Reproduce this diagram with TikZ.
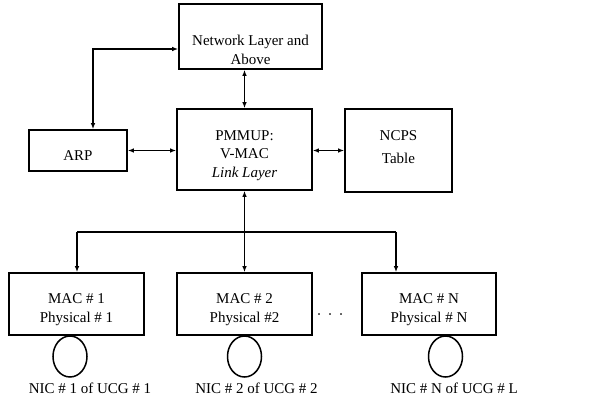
\documentclass[tikz,border=0pt]{standalone}
\usepackage{fontspec}
\setmainfont{Liberation Serif}
\usetikzlibrary{arrows.meta,shapes.geometric}
\newcommand\bxt[2]{\raisebox{#1}[0pt][0pt]{\begin{tabular}[t]{@{}c@{}}#2\end{tabular}}}
\tikzset{blk/.style={draw=black,rectangle,line width=1.6pt,inner sep=0pt,font=\fontsize{15}{18.5}\selectfont}}
\tikzset{nic/.style={draw=black,ellipse,line width=1.5pt,minimum width=34,minimum height=41,inner sep=0pt}}
\tikzset{lbl/.style={inner sep=0pt,anchor=base,font=\fontsize{15}{18}\selectfont}}
\tikzset{lnk/.style={line width=1.3pt,{Latex[length=6pt,width=4.5pt]}-{Latex[length=6pt,width=4.5pt]}}}
\tikzset{dn/.style={line width=1.3pt,-{Latex[length=6pt,width=4.5pt]}}}

\begin{document}
\begin{tikzpicture}[x=1pt,y=-1pt]
        \useasboundingbox (0,0) rectangle (610,399);
        \node[blk,minimum width=143,minimum height=65] (net) at (250.5,36.5) {\bxt{-9.2pt}{Network Layer and\\Above}};
        \node[blk,minimum width=135,minimum height=81] (pmm) at (244.5,149.5) {\bxt{9.5pt}{PMMUP:\\V-MAC\\\textit{Link Layer}}};
        \node[blk,minimum width=107,minimum height=83] (ncps) at (398.5,150.5) {\bxt{9.8pt}{NCPS\\[4pt]Table}};
        \node[blk,minimum width=98,minimum height=41] (arp) at (78,150.5) {\bxt{-9.5pt}{ARP}};

        \node[blk,minimum width=135,minimum height=62] (mac1) at (76.5,304) {\bxt{0.5pt}{MAC \# 1\\Physical \# 1}};
        \node[blk,minimum width=135,minimum height=62] (mac2) at (244.5,304) {\bxt{0.5pt}{MAC \# 2\\Physical \#2}};
        \node[blk,minimum width=134,minimum height=62] (macn) at (429,304) {\bxt{0.5pt}{MAC \# N\\Physical \# N}};
        \node[lbl] (dots) at (330,319.5) {·\hspace{6pt}·\hspace{6pt}·};

        \node[nic] (c1) at (70,356.5) {};
        \node[nic] (c2) at (244.5,356.5) {};
        \node[nic] (cn) at (445.5,356.5) {};
        \node[lbl] (t1) at (90,393) {NIC \# 1 of UCG \# 1};
        \node[lbl] (t2) at (256.5,393) {NIC \# 2 of UCG \# 2};
        \node[lbl] (tn) at (454,393) {NIC \# N of UCG \# L};

        \coordinate (bus) at (244.5,232);
        \coordinate (bus1) at (77,232);
        \coordinate (busn) at (396,232);

        \draw[lnk] ([xshift=15]arp.north) |- ([yshift=-12.5]net.west);
        \draw[lnk] (pmm.north |- net.south) -- (pmm.north);
        \draw[lnk] (arp.east) -- (pmm.west |- arp.east);
        \draw[lnk] (pmm.east |- ncps.west) -- (ncps.west);
        \draw[dn] (bus) -- (pmm.south);
        \draw[line width=1.3pt] (bus1) -- (busn);
        \draw[dn] (bus1) -- (bus1 |- mac1.north);
        \draw[dn] (bus) -- (mac2.north);
        \draw[dn] (busn) -- (busn |- macn.north);
    \end{tikzpicture}
\end{document}
